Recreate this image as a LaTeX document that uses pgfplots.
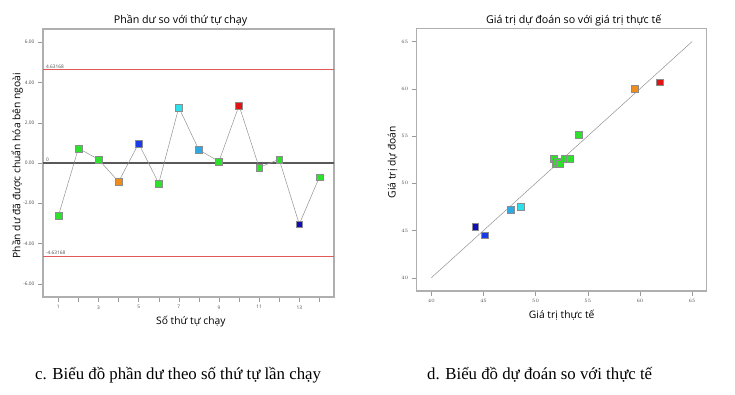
\documentclass[border=0pt]{standalone}
\usepackage{fontspec}
\setmainfont{Liberation Serif}
\setsansfont{Open Sans}
\usepackage{pgfplots}
\pgfplotsset{compat=1.18}
\usepackage{pgfplotstable}

\definecolor{cgreen}{RGB}{45,225,45}
\definecolor{corange}{RGB}{240,140,25}
\definecolor{cblue}{RGB}{25,60,235}
\definecolor{cdblue}{RGB}{15,15,185}
\definecolor{ccyan}{RGB}{45,225,235}
\definecolor{csky}{RGB}{45,170,230}
\definecolor{cred}{RGB}{225,20,20}
\definecolor{limred}{RGB}{225,90,90}
\definecolor{boxgray}{RGB}{175,175,175}

\pgfplotstableread{
run res cls
1 -2.63 g
2 0.73 g
3 0.18 g
4 -0.93 o
5 0.97 b
6 -1.01 g
7 2.76 c
8 0.65 s
9 0.08 g
10 2.86 r
11 -0.22 g
12 0.18 g
13 -3.04 d
14 -0.71 g
}\resdata

\pgfplotstableread{
act pred cls
59.5 60.0 o
61.9 60.7 r
54.1 55.15 g
51.7 52.6 g
51.9 52.1 g
52.05 52.3 g
52.3 52.1 g
52.8 52.6 g
53.0 52.6 g
53.3 52.6 g
44.2 45.4 d
45.1 44.5 b
47.6 47.2 s
48.6 47.5 c
}\preddata

\pgfplotsset{
  mystyle/.style={
    scale only axis,
    tick pos=left,
    tick align=outside,
    major tick length=5pt,
    minor tick length=0pt,
    tick style={draw=gray!80, line width=0.4pt},
    ticklabel style={font=\sffamily\fontsize{4.8}{5}\selectfont, text=black!70},
    axis line style={draw=boxgray, line width=1.4pt},
    title style={font=\sffamily\fontsize{10.7}{12}\selectfont, at={(0.5,1)}, anchor=south, yshift=-7pt},
    label style={font=\sffamily\fontsize{10.3}{12}\selectfont},
    clip=false,
  },
  myclasses/.style={
    scatter, only marks, scatter src=explicit symbolic,
    mark=square*, mark size=3.4pt,
    scatter/classes={
      g={mark=square*, draw=black!45, fill=cgreen},
      o={mark=square*, draw=black!45, fill=corange},
      b={mark=square*, draw=black!45, fill=cblue},
      d={mark=square*, draw=black!45, fill=cdblue},
      c={mark=square*, draw=black!45, fill=ccyan},
      s={mark=square*, draw=black!45, fill=csky},
      r={mark=square*, draw=black!45, fill=cred}
    }
  }
}

\begin{document}
\begin{tikzpicture}
% page frame: 735pt x 394pt, left axis box lower-left at (43pt,97pt) from page bottom-left
\path (-43pt,-97pt) rectangle (692pt,297pt);

\begin{axis}[mystyle,
  at={(0pt,0pt)}, anchor=south west, width=291pt, height=268pt,
  xmin=0.235, xmax=14.73, ymin=-6.66, ymax=6.66,
  xtick={1,...,14}, xticklabels={1,,3,,5,,7,,9,,11,,13,},
  ytick={-6,-4,-2,0,2,4,6},
  yticklabels={-6.00,-4.00,-2.00,0.00,2.00,4.00,6.00},
  title={Phần dư so với thứ tự chạy},
  title style={xshift=-8pt},
  xlabel={Số thứ tự chạy},
  ylabel={Phần dư đã được chuẩn hóa bên ngoài},
  xlabel style={at={(axis description cs:0.508,-0.09)}, anchor=center},
  ylabel style={at={(axis description cs:-0.089,0.49)}, anchor=center},
]
\addplot[draw=limred, line width=1.1pt, no marks] coordinates {(0.235,4.63168) (14.73,4.63168)};
\addplot[draw=limred, line width=1.1pt, no marks] coordinates {(0.235,-4.63168) (14.73,-4.63168)};
\addplot[draw=black!65, line width=1.1pt, no marks] coordinates {(0.235,0) (14.73,0)};
\addplot[draw=gray!85, line width=0.5pt, no marks] table[x=run, y=res] {\resdata};
\addplot[myclasses] table[x=run, y=res, meta=cls] {\resdata};
\node[anchor=south west, inner sep=1pt, font=\sffamily\fontsize{4.8}{5}\selectfont, text=black!70] at (axis cs:0.33,4.63168) {4.63168};
\node[anchor=south west, inner sep=1pt, font=\sffamily\fontsize{4.8}{5}\selectfont, text=black!70] at (axis cs:0.33,-4.63168) {-4.63168};
\node[anchor=south west, inner sep=1pt, font=\sffamily\fontsize{4.8}{5}\selectfont, text=black!70] at (axis cs:0.33,0) {0};
\end{axis}

\begin{axis}[mystyle,
  at={(373.7pt,6pt)}, anchor=south west, width=290pt, height=262.7pt,
  xmin=38.6, xmax=66.4, ymin=38.6, ymax=66.4,
  xtick={40,45,...,65}, ytick={40,45,...,65},
  title={Giá trị dự đoán so với giá trị thực tế},
  title style={xshift=12pt},
  xlabel={Giá trị thực tế},
  ylabel={Giá trị dự đoán},
  xlabel style={at={(axis description cs:0.5,-0.091)}, anchor=center},
  ylabel style={at={(axis description cs:-0.083,0.49)}, anchor=center},
]
\addplot[draw=gray!85, line width=0.5pt, no marks] coordinates {(40,40) (65,65)};
\addplot[myclasses] table[x=act, y=pred, meta=cls] {\preddata};
\end{axis}

\node[anchor=base west, inner sep=0pt, font=\fontsize{16.8}{19}\selectfont] at (-8pt,-82pt) {c. Biểu đồ phần dư theo số thứ tự lần chạy};
\node[anchor=base west, inner sep=0pt, font=\fontsize{16.8}{19}\selectfont] at (384pt,-82pt) {d. Biểu đồ dự đoán so với thực tế};
\end{tikzpicture}
\end{document}
